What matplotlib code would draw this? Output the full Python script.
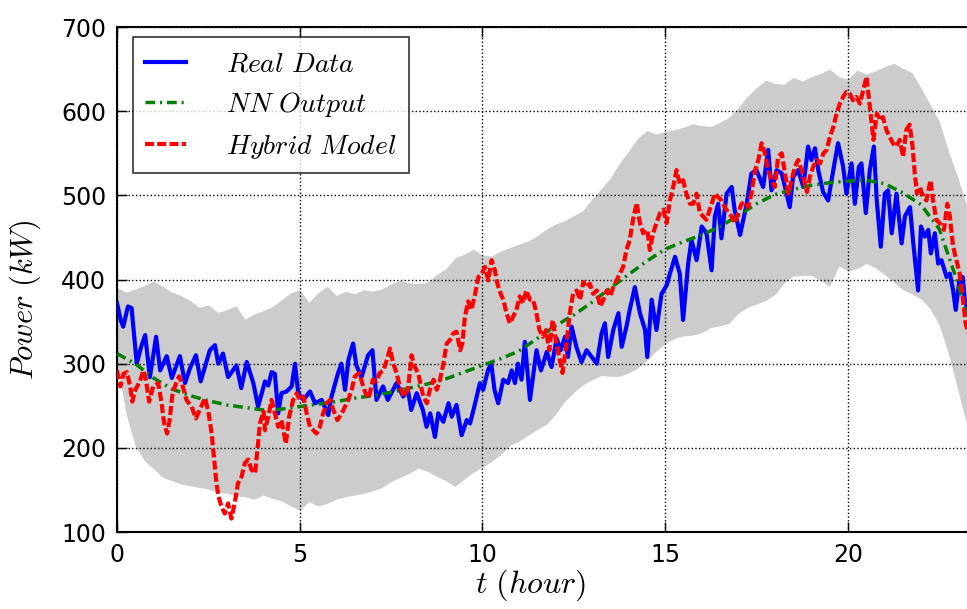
import numpy as np
import matplotlib
matplotlib.use('Agg')
import matplotlib.pyplot as plt

plt.rcParams['mathtext.fontset'] = 'cm'
plt.rcParams['font.family'] = 'DejaVu Sans'
plt.rcParams['lines.scale_dashes'] = False

# measured load (kW) over one day
real_t = [0.00, 0.10, 0.17, 0.30, 0.40, 0.54, 0.66, 0.77, 0.90, 1.07, 1.18, 1.36, 1.50, 1.72, 1.86, 2.00,
          2.16, 2.29, 2.54, 2.68, 2.77, 2.90, 3.04, 3.27, 3.40, 3.55, 3.73, 3.86, 4.05, 4.14, 4.23, 4.32,
          4.41, 4.50, 4.64, 4.78, 4.87, 4.96, 5.10, 5.28, 5.42, 5.60, 5.78, 5.87, 6.05, 6.14, 6.24, 6.33,
          6.46, 6.55, 6.69, 6.87, 6.99, 7.10, 7.28, 7.41, 7.65, 7.83, 7.96, 8.05, 8.20, 8.37, 8.47, 8.57,
          8.70, 8.79, 8.93, 9.07, 9.16, 9.29, 9.43, 9.57, 9.66, 9.80, 9.93, 10.02, 10.15, 10.24, 10.33, 10.43,
          10.57, 10.70, 10.80, 10.89, 10.97, 11.07, 11.16, 11.30, 11.48, 11.60, 11.76, 11.89, 12.03, 12.14, 12.26, 12.34,
          12.44, 12.57, 12.71, 12.85, 12.99, 13.13, 13.26, 13.35, 13.44, 13.58, 13.72, 13.81, 13.94, 14.03, 14.17, 14.31,
          14.45, 14.51, 14.63, 14.76, 14.90, 15.04, 15.13, 15.27, 15.40, 15.49, 15.63, 15.72, 15.86, 16.00, 16.13, 16.27,
          16.36, 16.45, 16.54, 16.68, 16.82, 16.90, 17.05, 17.23, 17.36, 17.50, 17.68, 17.82, 17.91, 18.05, 18.19, 18.28,
          18.41, 18.50, 18.64, 18.78, 18.91, 19.00, 19.10, 19.19, 19.32, 19.46, 19.60, 19.73, 19.87, 19.96, 20.10, 20.19,
          20.30, 20.37, 20.49, 20.60, 20.71, 20.79, 20.90, 21.01, 21.10, 21.20, 21.33, 21.47, 21.56, 21.70, 21.79, 21.92,
          22.00, 22.10, 22.20, 22.27, 22.38, 22.47, 22.56, 22.70, 22.79, 22.88, 22.95, 23.05, 23.14, 23.20, 23.30]
real_p = [372, 352, 344, 368, 366, 300, 320, 334, 284, 332, 292, 309, 283, 309, 277, 295,
          310, 279, 316, 322, 300, 312, 284, 298, 271, 302, 277, 249, 279, 274, 290, 288,
          241, 265, 267, 273, 300, 265, 257, 267, 253, 257, 239, 261, 289, 300, 269, 304,
          324, 298, 284, 310, 316, 257, 273, 257, 277, 261, 269, 245, 265, 245, 225, 241,
          213, 241, 231, 253, 237, 251, 215, 233, 229, 253, 277, 269, 292, 300, 269, 253,
          281, 277, 292, 277, 300, 281, 326, 257, 316, 292, 314, 296, 330, 316, 332, 308,
          344, 320, 302, 316, 308, 300, 336, 348, 308, 340, 360, 320, 344, 364, 391, 360,
          340, 308, 376, 340, 383, 393, 407, 427, 407, 352, 419, 447, 423, 463, 455, 411,
          475, 490, 449, 502, 510, 483, 453, 490, 526, 530, 510, 554, 506, 530, 526, 510,
          486, 522, 530, 510, 558, 542, 556, 530, 504, 494, 530, 562, 534, 502, 538, 490,
          534, 538, 479, 530, 558, 494, 439, 502, 506, 455, 502, 443, 475, 486, 443, 387,
          463, 451, 459, 431, 455, 419, 423, 403, 407, 387, 364, 399, 403, 376, 360]

# neural network forecast
nn_t = [0.0, 0.5, 1.0, 1.5, 2.0, 2.5, 3.0, 3.5, 4.0, 4.5, 5.0, 5.5, 6.0, 6.5, 7.0, 7.5,
        8.0, 8.5, 9.0, 9.5, 10.0, 10.5, 11.0, 11.5, 12.0, 12.5, 13.0, 13.5, 14.0, 14.5, 15.0, 15.5,
        16.0, 16.5, 17.0, 17.5, 18.0, 18.5, 19.0, 19.5, 20.0, 20.5, 21.0, 21.5, 22.0, 22.5, 23.0, 23.3]
nn_p = [312, 300, 283, 270, 262, 256, 251, 248, 245, 246, 249, 252, 255, 259, 262, 266,
        271, 276, 282, 290, 298, 306, 315, 330, 345, 358, 373, 390, 406, 422, 436, 445,
        453, 463, 476, 490, 501, 507, 512, 515, 517, 518, 514, 503, 489, 460, 397, 350]

# hybrid model output
hyb_t = [0.00, 0.09, 0.18, 0.27, 0.36, 0.42, 0.50, 0.63, 0.72, 0.79, 0.88, 0.99, 1.13, 1.22, 1.29, 1.37,
         1.44, 1.52, 1.62, 1.70, 1.80, 1.90, 2.04, 2.16, 2.28, 2.41, 2.50, 2.59, 2.66, 2.72, 2.78, 2.86,
         2.95, 3.04, 3.13, 3.22, 3.31, 3.41, 3.50, 3.59, 3.68, 3.78, 3.85, 3.91, 4.01, 4.05, 4.14, 4.23,
         4.32, 4.41, 4.50, 4.62, 4.71, 4.82, 4.92, 5.00, 5.10, 5.19, 5.28, 5.37, 5.46, 5.55, 5.64, 5.74,
         5.83, 5.92, 6.03, 6.15, 6.24, 6.33, 6.42, 6.51, 6.63, 6.71, 6.80, 6.89, 7.00, 7.10, 7.19, 7.29,
         7.38, 7.47, 7.56, 7.65, 7.74, 7.85, 7.96, 8.06, 8.15, 8.24, 8.30, 8.38, 8.48, 8.56, 8.66, 8.75,
         8.84, 8.93, 9.02, 9.11, 9.20, 9.29, 9.39, 9.45, 9.52, 9.61, 9.70, 9.80, 9.89, 9.98, 10.07, 10.16,
         10.25, 10.34, 10.41, 10.50, 10.57, 10.66, 10.75, 10.84, 10.93, 11.02, 11.11, 11.20, 11.30, 11.38, 11.46, 11.56,
         11.65, 11.74, 11.83, 11.92, 12.01, 12.10, 12.19, 12.30, 12.39, 12.48, 12.58, 12.67, 12.76, 12.85, 12.94, 13.03,
         13.13, 13.22, 13.31, 13.40, 13.49, 13.58, 13.67, 13.76, 13.85, 13.94, 14.03, 14.12, 14.22, 14.31, 14.40, 14.51,
         14.58, 14.67, 14.76, 14.86, 14.95, 15.04, 15.13, 15.22, 15.31, 15.40, 15.49, 15.58, 15.68, 15.77, 15.86, 15.95,
         16.04, 16.13, 16.22, 16.36, 16.45, 16.54, 16.63, 16.73, 16.82, 16.91, 17.00, 17.09, 17.18, 17.27, 17.36, 17.46,
         17.55, 17.64, 17.73, 17.82, 17.91, 18.00, 18.09, 18.19, 18.28, 18.37, 18.46, 18.55, 18.64, 18.73, 18.82, 18.88,
         18.96, 19.05, 19.14, 19.24, 19.33, 19.42, 19.51, 19.60, 19.69, 19.78, 19.87, 19.96, 20.05, 20.14, 20.23, 20.33,
         20.42, 20.51, 20.60, 20.70, 20.79, 20.90, 20.96, 21.05, 21.14, 21.23, 21.32, 21.42, 21.51, 21.60, 21.69, 21.77,
         21.83, 21.89, 21.97, 22.06, 22.15, 22.26, 22.33, 22.42, 22.51, 22.63, 22.72, 22.79, 22.88, 22.97, 23.06, 23.15,
         23.22, 23.30]
hyb_p = [292, 273, 288, 290, 273, 255, 269, 279, 292, 281, 255, 273, 277, 253, 229, 217,
         233, 265, 277, 285, 273, 257, 249, 235, 247, 259, 243, 217, 186, 158, 142, 130,
         122, 134, 116, 134, 158, 166, 182, 186, 174, 170, 201, 229, 243, 221, 237, 257,
         241, 225, 233, 205, 237, 257, 265, 257, 261, 241, 225, 221, 217, 225, 241, 253,
         257, 245, 233, 241, 249, 257, 269, 285, 289, 277, 265, 259, 281, 279, 289, 292,
         304, 318, 300, 289, 273, 261, 269, 310, 296, 289, 277, 261, 253, 269, 281, 269,
         281, 300, 324, 328, 336, 338, 316, 324, 356, 374, 364, 383, 403, 407, 415, 399,
         423, 411, 395, 383, 376, 360, 348, 356, 364, 380, 372, 387, 376, 376, 364, 340,
         332, 340, 316, 352, 328, 308, 289, 324, 360, 383, 387, 376, 397, 391, 395, 383,
         387, 368, 376, 387, 380, 391, 399, 407, 415, 435, 447, 471, 491, 467, 455, 459,
         435, 455, 467, 479, 483, 467, 494, 510, 530, 514, 518, 502, 490, 490, 502, 479,
         475, 471, 483, 502, 498, 494, 486, 479, 475, 467, 479, 490, 492, 486, 502, 530,
         542, 562, 550, 530, 518, 510, 546, 550, 526, 502, 518, 534, 542, 530, 514, 504,
         522, 534, 542, 538, 550, 554, 570, 581, 597, 609, 617, 623, 621, 613, 617, 609,
         625, 641, 605, 566, 597, 589, 593, 578, 570, 562, 558, 566, 546, 578, 584, 558,
         526, 502, 510, 498, 494, 518, 494, 471, 467, 459, 490, 475, 439, 423, 407, 376,
         348, 335]

# uncertainty band
band_t = np.arange(0, 23.26, 0.25)
band_hi = [390, 385, 389, 393, 398, 392, 385, 381, 375, 367, 370, 361, 364, 369, 353, 359,
           363, 368, 376, 384, 388, 373, 384, 392, 381, 386, 383, 388, 386, 389, 395, 399,
           396, 395, 397, 406, 413, 426, 430, 436, 429, 428, 434, 438, 442, 446, 452, 460,
           466, 470, 476, 482, 496, 508, 521, 538, 553, 568, 577, 573, 576, 578, 581, 585,
           583, 582, 587, 593, 604, 618, 628, 637, 633, 632, 640, 636, 641, 645, 650, 641,
           638, 649, 644, 648, 653, 657, 651, 646, 628, 608, 588, 553, 522, 488]
band_lo = [300, 240, 202, 185, 175, 165, 161, 157, 155, 153, 151, 147, 146, 143, 142, 139,
           144, 140, 137, 131, 126, 136, 131, 134, 139, 142, 144, 146, 149, 153, 160, 165,
           170, 176, 172, 166, 161, 154, 163, 171, 177, 184, 192, 203, 208, 215, 222, 228,
           240, 255, 266, 275, 281, 286, 285, 285, 289, 295, 304, 315, 324, 330, 333, 334,
           337, 343, 345, 348, 360, 367, 371, 375, 382, 396, 404, 405, 405, 399, 392, 416,
           410, 413, 419, 414, 406, 397, 388, 383, 377, 365, 346, 312, 270, 228]

fig = plt.figure(figsize=(9.67, 6.09), dpi=100, facecolor='white')
ax = fig.add_axes([0.121, 0.1264, 0.907, 0.8292])

ax.fill_between(band_t, band_lo, band_hi, color='0.8', linewidth=0, zorder=1)
ax.plot(real_t, real_p, color='b', lw=3.0, label=r'$Real\ Data$', zorder=3)
ax.plot(nn_t, nn_p, color='g', lw=2.5, dashes=(7, 3.5, 1.5, 3.5), label=r'$NN\ Output$', zorder=4)
ax.plot(hyb_t, hyb_p, color='r', lw=3.0, dashes=(6.5, 2.3), label=r'$Hybrid\ Model$', zorder=5)

ax.set_xlim(0, 24)
ax.set_ylim(100, 700)
ax.set_xticks([0, 5, 10, 15, 20])
ax.set_yticks(range(100, 701, 100))
ax.grid(True, color='k', linestyle=':', linewidth=1.0)
ax.set_axisbelow(False)
ax.tick_params(direction='in', top=True, right=True, length=7, width=1,
               labelsize=17, pad=8)
for sp in ax.spines.values():
    sp.set_linewidth(1.5)

ax.set_xlabel(r'$t\ (hour)$', fontsize=23)
ax.set_ylabel(r'$Power\ (kW)$', fontsize=22)
ax.xaxis.set_label_coords(0.471, -0.071)
ax.yaxis.set_label_coords(-0.084, 0.46)

leg = ax.legend(loc='upper left', fontsize=20, handlelength=1.45, borderpad=0.45,
                labelspacing=0.45, handletextpad=1.45, fancybox=False,
                bbox_to_anchor=(0.018, 0.98), borderaxespad=0)
leg.get_frame().set_edgecolor('k')
leg.get_frame().set_linewidth(1.2)

fig.savefig('out.png', dpi=100, facecolor='white')
